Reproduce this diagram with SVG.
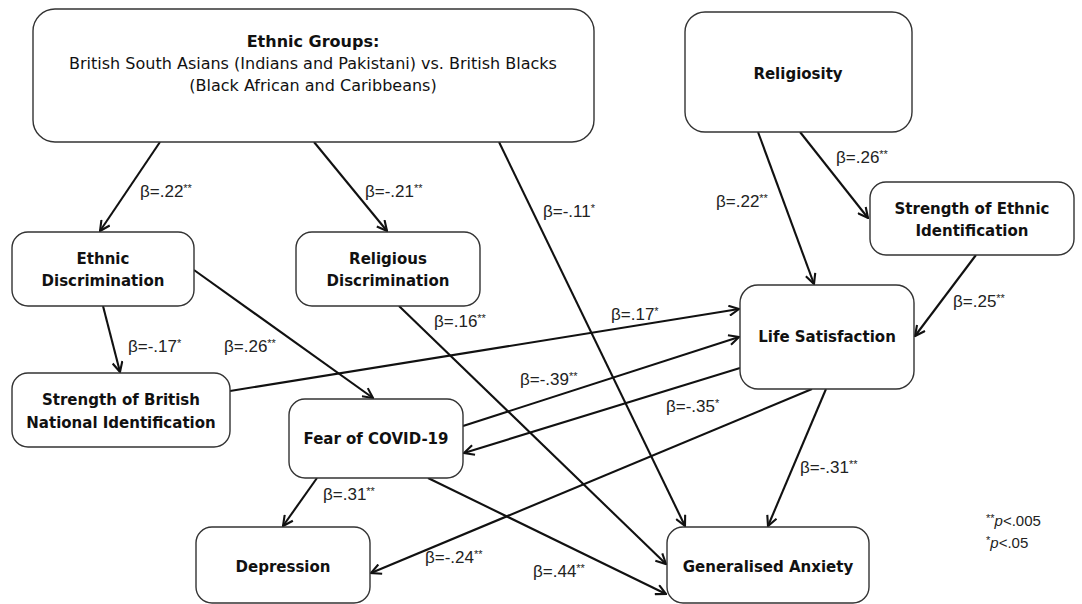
<svg xmlns="http://www.w3.org/2000/svg" width="1082" height="604" viewBox="0 0 1082 604">
<style>
.box{fill:#fff;stroke:#333;stroke-width:1.4}
.nt{font-family:"DejaVu Sans",sans-serif;font-weight:bold;font-size:15px;fill:#111;text-anchor:middle}
.rt{font-family:"DejaVu Sans",sans-serif;font-size:16px;fill:#111;text-anchor:middle}
.bt{font-family:"DejaVu Sans",sans-serif;font-weight:bold;font-size:16px;fill:#111;text-anchor:middle}
.lb{font-family:"Liberation Sans",Arial,sans-serif;font-size:17px;fill:#222}
.st{font-size:11px}
.edge{stroke:#111;stroke-width:2.1;fill:none;marker-end:url(#ah)}
</style>
<defs>
<marker id="ah" markerUnits="userSpaceOnUse" viewBox="0 0 12 12" refX="11" refY="6" markerWidth="12" markerHeight="12" orient="auto">
<path d="M1,1 L11,6 L1,11" fill="none" stroke="#111" stroke-width="2.1"/>
</marker>
</defs>
<rect width="1082" height="604" fill="#fff"/>
<g id="connectors">
<line class="edge" x1="160" y1="142" x2="100" y2="231"/>
<line class="edge" x1="314" y1="142" x2="387" y2="231"/>
<line class="edge" x1="499" y1="142" x2="685" y2="526"/>
<line class="edge" x1="758" y1="132" x2="814" y2="284"/>
<line class="edge" x1="800" y1="132" x2="868" y2="218"/>
<line class="edge" x1="976" y1="255" x2="915" y2="336"/>
<line class="edge" x1="103" y1="306" x2="120" y2="372"/>
<line class="edge" x1="194" y1="270" x2="373" y2="398"/>
<line class="edge" x1="399" y1="306" x2="666" y2="564"/>
<line class="edge" x1="230" y1="391" x2="739" y2="309"/>
<line class="edge" x1="463" y1="426" x2="739" y2="337"/>
<line class="edge" x1="740" y1="368" x2="464" y2="453"/>
<line class="edge" x1="812" y1="389" x2="371" y2="573"/>
<line class="edge" x1="826" y1="389" x2="768" y2="526"/>
<line class="edge" x1="317" y1="478" x2="283" y2="526"/>
<line class="edge" x1="428" y1="478" x2="666" y2="594"/>
<text class="lb" x="140" y="197">β=.22<tspan class="st" dy="-5">**</tspan></text>
<text class="lb" x="365" y="197">β=-.21<tspan class="st" dy="-5">**</tspan></text>
<text class="lb" x="543" y="217">β=-.11<tspan class="st" dy="-5">*</tspan></text>
<text class="lb" x="716" y="207">β=.22<tspan class="st" dy="-5">**</tspan></text>
<text class="lb" x="836" y="163">β=.26<tspan class="st" dy="-5">**</tspan></text>
<text class="lb" x="953" y="307">β=.25<tspan class="st" dy="-5">**</tspan></text>
<text class="lb" x="128" y="352">β=-.17<tspan class="st" dy="-5">*</tspan></text>
<text class="lb" x="224" y="352">β=.26<tspan class="st" dy="-5">**</tspan></text>
<text class="lb" x="434" y="327">β=.16<tspan class="st" dy="-5">**</tspan></text>
<text class="lb" x="611" y="320">β=.17<tspan class="st" dy="-5">*</tspan></text>
<text class="lb" x="520" y="385">β=-.39<tspan class="st" dy="-5">**</tspan></text>
<text class="lb" x="666" y="412">β=-.35<tspan class="st" dy="-5">*</tspan></text>
<text class="lb" x="425" y="563">β=-.24<tspan class="st" dy="-5">**</tspan></text>
<text class="lb" x="800" y="473">β=-.31<tspan class="st" dy="-5">**</tspan></text>
<text class="lb" x="323" y="500">β=.31<tspan class="st" dy="-5">**</tspan></text>
<text class="lb" x="533" y="577">β=.44<tspan class="st" dy="-5">**</tspan></text>
</g>
<g id="ethnic-groups">
<rect class="box" x="33" y="9" width="561" height="133" rx="22"/>
<text class="bt" x="313" y="47">Ethnic Groups:</text>
<text class="rt" x="313" y="69">British South Asians (Indians and Pakistani) vs. British Blacks</text>
<text class="rt" x="313" y="91">(Black African and Caribbeans)</text>
</g>
<g id="religiosity">
<rect class="box" x="685" y="12" width="227" height="120" rx="20"/>
<text class="nt" x="798" y="79">Religiosity</text>
</g>
<g id="strength-ethnic">
<rect class="box" x="870" y="182" width="204" height="73" rx="16"/>
<text class="nt" x="972" y="214">Strength of Ethnic</text>
<text class="nt" x="972" y="236">Identification</text>
</g>
<g id="life-satisfaction">
<rect class="box" x="740" y="285" width="174" height="104" rx="18"/>
<text class="nt" x="827" y="342">Life Satisfaction</text>
</g>
<g id="ethnic-discrimination">
<rect class="box" x="12" y="232" width="182" height="74" rx="16"/>
<text class="nt" x="103" y="264">Ethnic</text>
<text class="nt" x="103" y="286">Discrimination</text>
</g>
<g id="religious-discrimination">
<rect class="box" x="296" y="232" width="184" height="74" rx="16"/>
<text class="nt" x="388" y="264">Religious</text>
<text class="nt" x="388" y="286">Discrimination</text>
</g>
<g id="strength-british">
<rect class="box" x="12" y="373" width="218" height="74" rx="16"/>
<text class="nt" x="121" y="405">Strength of British</text>
<text class="nt" x="121" y="428">National Identification</text>
</g>
<g id="fear-covid">
<rect class="box" x="289" y="399" width="174" height="79" rx="16"/>
<text class="nt" x="376" y="444">Fear of COVID-19</text>
</g>
<g id="depression">
<rect class="box" x="196" y="527" width="174" height="76" rx="16"/>
<text class="nt" x="283" y="572">Depression</text>
</g>
<g id="generalised-anxiety">
<rect class="box" x="667" y="527" width="202" height="76" rx="16"/>
<text class="nt" x="768" y="572">Generalised Anxiety</text>
</g>
<g id="legend">
<text class="lb" x="986" y="526" style="font-size:15px"><tspan class="st" dy="-4">**</tspan><tspan dy="4" font-style="italic">p</tspan>&lt;.005</text>
<text class="lb" x="986" y="548" style="font-size:15px"><tspan class="st" dy="-4">*</tspan><tspan dy="4" font-style="italic">p</tspan>&lt;.05</text>
</g>
</svg>
